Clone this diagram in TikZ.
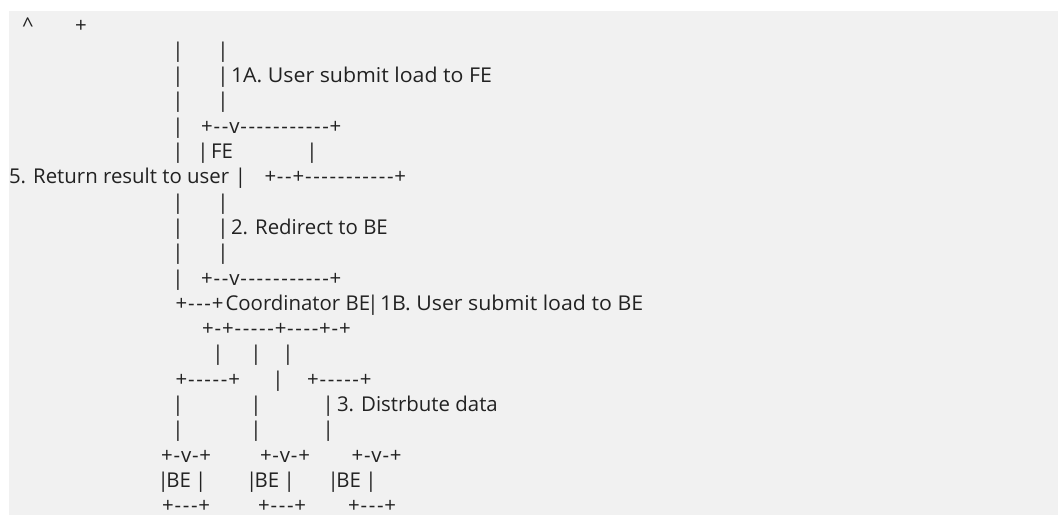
\documentclass[tikz,border=0pt]{standalone}
\usepackage{fontspec}
\setmainfont{Open Sans}
\definecolor{bgc}{HTML}{F1F1F1}
\definecolor{inkc}{HTML}{222222}
\newcommand\hy{\makebox[6.15pt]{-}}
\newcommand\wider[1]{\scalebox{1.045}[1]{#1}}
\begin{document}
\begin{tikzpicture}[x=0.75pt,y=-0.75pt,
  txt/.style={anchor=base west, inner sep=0pt, outer sep=0pt, text=inkc, font=\fontsize{15.3}{18}\selectfont},
  vbar/.style={txt, anchor=base}]
\useasboundingbox (0,0) rectangle (1058,515);
\fill[bgc] (9,11) rectangle (1058,515);
% line 1
\node[txt] (caret) at (22.5,32) {\textasciicircum};
\node[txt] (p1) at (75,32) {+};
% lines 2-4
\node[vbar] (b2a) at (178,57.3) {|};
\node[vbar] (b2b) at (223,57.3) {|};
\node[vbar] (b3a) at (178,82.6) {|};
\node[vbar] (b3b) at (223,82.6) {|};
\node[txt] (t1a) at (231,82.6) {\wider{1A. User submit load to FE}};
\node[vbar] (b4a) at (178,107.9) {|};
\node[vbar] (b4b) at (223,107.9) {|};
% line 5
\node[vbar] (b5a) at (178,133.2) {|};
\node[txt] (fetop) at (201.2,133.2) {+\hy\hy v\hy\hy\hy\hy\hy\hy\hy\hy\hy\hy\hy+};
% line 6
\node[vbar] (b6a) at (178,158.5) {|};
\node[vbar] (b6b) at (203,158.5) {|};
\node[txt] (fe) at (211,158.5) {FE};
\node[vbar] (b6c) at (312,158.5) {|};
% line 7
\node[txt] (t5) at (9,183.8) {5. Return result to user};
\node[vbar] (b7a) at (240.5,183.8) {|};
\node[txt] (febot) at (264.5,183.8) {+\hy\hy+\hy\hy\hy\hy\hy\hy\hy\hy\hy\hy\hy+};
% lines 8-10
\node[vbar] (b8a) at (178,209.1) {|};
\node[vbar] (b8b) at (223,209.1) {|};
\node[vbar] (b9a) at (178,234.4) {|};
\node[vbar] (b9b) at (223,234.4) {|};
\node[txt] (t2) at (231,234.4) {2. Redirect to BE};
\node[vbar] (b10a) at (178,259.7) {|};
\node[vbar] (b10b) at (223,259.7) {|};
% line 11
\node[vbar] (b11a) at (178,285) {|};
\node[txt] (cotop) at (201.2,285) {+\hy\hy v\hy\hy\hy\hy\hy\hy\hy\hy\hy\hy\hy+};
% line 12
\node[txt] (ret) at (175.6,310.3) {+\hy\hy\hy+};
\node[txt] (co) at (225.5,310.3) {Coordinator BE};
\node[vbar] (b12a) at (373,310.3) {|};
\node[txt] (t1b) at (380,310.3) {\wider{1B. User submit load to BE}};
% line 13
\node[txt] (cobot) at (202.2,335.6) {+\hy+\hy\hy\hy\hy\hy+\hy\hy\hy\hy+\hy+};
% line 14
\node[vbar] (b14a) at (218,360.9) {|};
\node[vbar] (b14b) at (256,360.9) {|};
\node[vbar] (b14c) at (288,360.9) {|};
% line 15
\node[txt] (brl) at (175.6,386.2) {+\hy\hy\hy\hy\hy+};
\node[vbar] (b15a) at (278,386.2) {|};
\node[txt] (brr) at (307.2,386.2) {+\hy\hy\hy\hy\hy+};
% line 16
\node[vbar] (b16a) at (178,411.5) {|};
\node[vbar] (b16b) at (256,411.5) {|};
\node[vbar] (b16c) at (328.3,411.5) {|};
\node[txt] (t3) at (337,411.5) {3. Distrbute data};
% line 17
\node[vbar] (b17a) at (178,436.8) {|};
\node[vbar] (b17b) at (256,436.8) {|};
\node[vbar] (b17c) at (328.3,436.8) {|};
% line 18
\node[txt] (be1top) at (161.2,462.1) {+\hy v\hy+};
\node[txt] (be2top) at (260,462.1) {+\hy v\hy+};
\node[txt] (be3top) at (351.6,462.1) {+\hy v\hy+};
% line 19
\node[vbar] (b19a) at (163.3,487.4) {|};
\node[txt] (be1) at (166.3,487.4) {BE};
\node[vbar] (b19b) at (200.7,487.4) {|};
\node[vbar] (b19c) at (251.7,487.4) {|};
\node[txt] (be2) at (254.7,487.4) {BE};
\node[vbar] (b19d) at (289.3,487.4) {|};
\node[vbar] (b19e) at (333.3,487.4) {|};
\node[txt] (be3) at (336.3,487.4) {BE};
\node[vbar] (b19f) at (371,487.4) {|};
% line 20
\node[txt] (be1bot) at (162.2,512.7) {+\hy\hy\hy+};
\node[txt] (be2bot) at (258.2,512.7) {+\hy\hy\hy+};
\node[txt] (be3bot) at (348.2,512.7) {+\hy\hy\hy+};
\end{tikzpicture}
\end{document}
